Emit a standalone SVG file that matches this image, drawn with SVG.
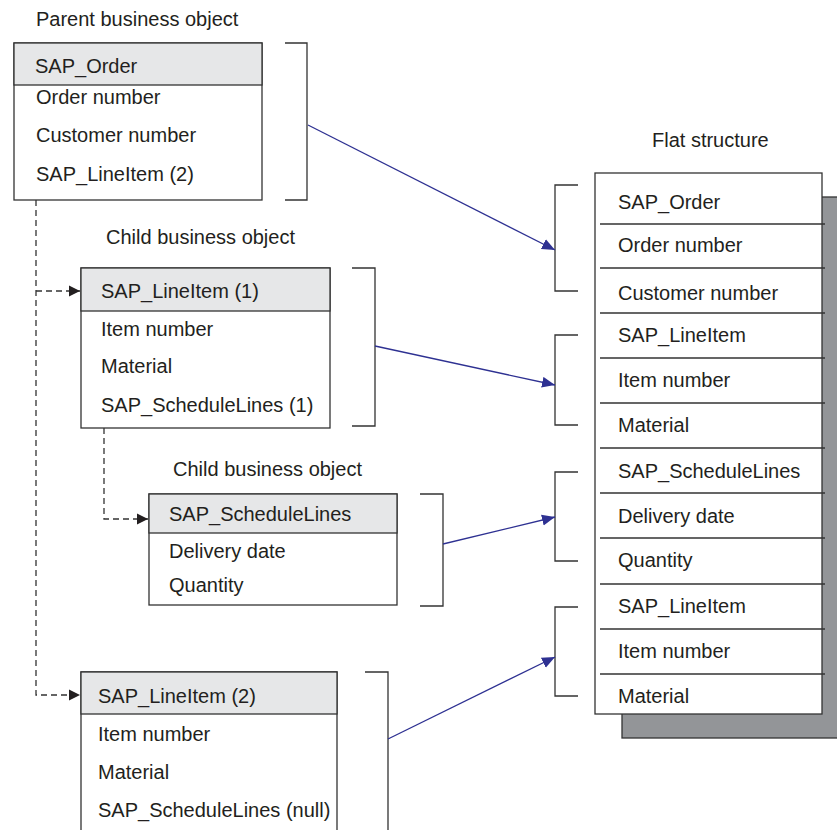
<svg xmlns="http://www.w3.org/2000/svg" width="837" height="830" viewBox="0 0 837 830">
<defs>
<style>
text{font-family:"Liberation Sans",Arial,sans-serif;font-size:20px;fill:#231f20}
.box{fill:#fff;stroke:#333;stroke-width:1.3}
.hdr{fill:#e6e7e8;stroke:#333;stroke-width:1.3}
.ln{fill:none;stroke:#333;stroke-width:1.3}
.dash{fill:none;stroke:#333;stroke-width:1.3;stroke-dasharray:6 4}
.blue{fill:none;stroke:#2e3192;stroke-width:1.3}
</style>
<marker id="ab" markerUnits="userSpaceOnUse" markerWidth="14" markerHeight="12" refX="13" refY="6" orient="auto">
<path d="M0,0.5 L13,6 L0,11.5 z" fill="#2e3192"/>
</marker>
<marker id="ak" markerUnits="userSpaceOnUse" markerWidth="12" markerHeight="12" refX="11" refY="6" orient="auto">
<path d="M0,0.5 L11,6 L0,11.5 z" fill="#231f20"/>
</marker>
</defs>
<rect width="837" height="830" fill="#fff"/>

<g id="parent">
<text x="36" y="26">Parent business object</text>
<rect class="box" x="14" y="43" width="248" height="157"/>
<rect class="hdr" x="14" y="43" width="248" height="42"/>
<text x="35" y="73">SAP_Order</text>
<text x="36" y="104">Order number</text>
<text x="36" y="142">Customer number</text>
<text x="36" y="181">SAP_LineItem (2)</text>
<path class="ln" d="M285,43 H307 V200 H285"/>
</g>

<g id="child1">
<text x="106" y="244">Child business object</text>
<rect class="box" x="81" y="268" width="249" height="160"/>
<rect class="hdr" x="81" y="268" width="249" height="43"/>
<text x="101" y="298">SAP_LineItem (1)</text>
<text x="101" y="336">Item number</text>
<text x="101" y="373">Material</text>
<text x="101" y="412">SAP_ScheduleLines (1)</text>
<path class="ln" d="M352,268 H375 V426 H352"/>
</g>

<g id="child2">
<text x="173" y="476">Child business object</text>
<rect class="box" x="149" y="494" width="248" height="111"/>
<rect class="hdr" x="149" y="494" width="248" height="39"/>
<text x="169" y="521">SAP_ScheduleLines</text>
<text x="169" y="558">Delivery date</text>
<text x="169" y="592">Quantity</text>
<path class="ln" d="M420,494 H443 V606 H420"/>
</g>

<g id="child3">
<path class="box" d="M81,831 V672 H337 V831"/>
<rect class="hdr" x="81" y="672" width="256" height="42"/>
<text x="98" y="703">SAP_LineItem (2)</text>
<text x="98" y="741">Item number</text>
<text x="98" y="779">Material</text>
<text x="98" y="817">SAP_ScheduleLines (null)</text>
<path class="ln" d="M365,672 H388 V831"/>
</g>

<g id="flat">
<text x="652" y="147">Flat structure</text>
<rect x="622" y="197" width="220" height="541" fill="#939598" stroke="#333" stroke-width="1.3"/>
<rect class="box" x="595" y="173" width="227" height="541"/>
<path class="ln" d="M600,224 H825 M600,268 H825 M600,313 H825 M600,358 H825 M600,403 H825 M600,448 H825 M600,493 H825 M600,538 H825 M600,584 H825 M600,629 H825 M600,674 H825"/>
<text x="618" y="209">SAP_Order</text>
<text x="618" y="252">Order number</text>
<text x="618" y="300">Customer number</text>
<text x="618" y="342">SAP_LineItem</text>
<text x="618" y="387">Item number</text>
<text x="618" y="432">Material</text>
<text x="618" y="478">SAP_ScheduleLines</text>
<text x="618" y="523">Delivery date</text>
<text x="618" y="567">Quantity</text>
<text x="618" y="613">SAP_LineItem</text>
<text x="618" y="658">Item number</text>
<text x="618" y="703">Material</text>
<path class="ln" d="M578,185 H555 V291 H578 M578,335 H555 V425 H578 M578,472 H555 V561 H578 M578,607 H555 V696 H578"/>
</g>

<g id="connectors">
<path class="dash" d="M36,200 V695 H80" marker-end="url(#ak)"/>
<path class="dash" d="M36,291 H80" marker-end="url(#ak)"/>
<path class="dash" d="M104,428 V519 H148" marker-end="url(#ak)"/>
<line class="blue" x1="308" y1="125" x2="555" y2="250" marker-end="url(#ab)"/>
<line class="blue" x1="375" y1="346" x2="555" y2="385" marker-end="url(#ab)"/>
<line class="blue" x1="443" y1="544" x2="555" y2="517" marker-end="url(#ab)"/>
<line class="blue" x1="388" y1="739" x2="555" y2="657" marker-end="url(#ab)"/>
</g>
</svg>
